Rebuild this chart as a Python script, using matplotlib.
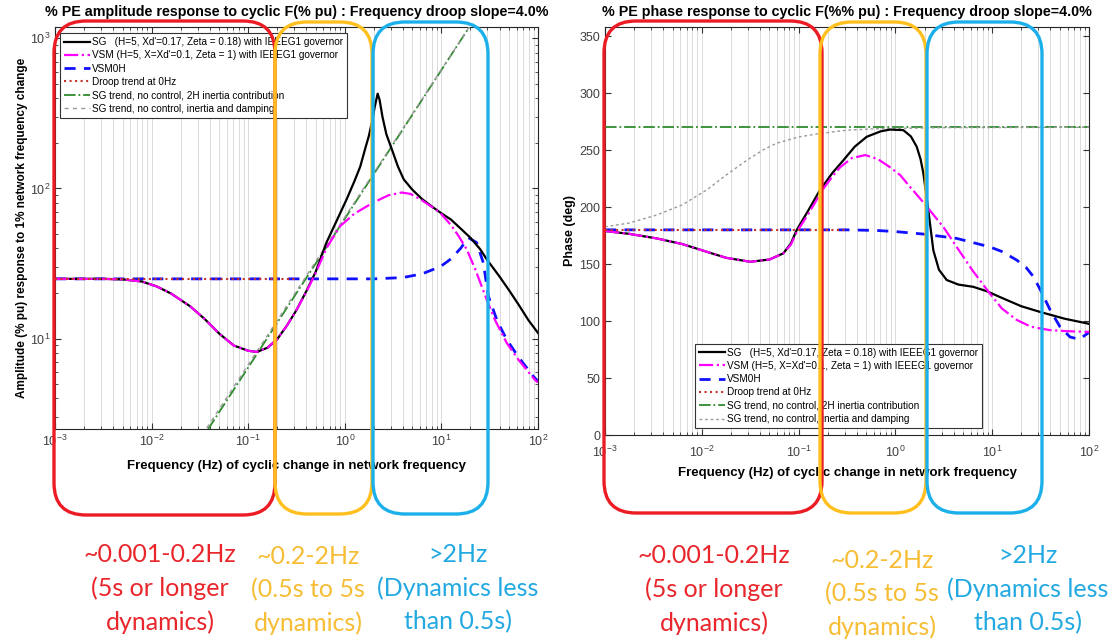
import numpy as np
import matplotlib
matplotlib.use("Agg")
import matplotlib.pyplot as plt
from matplotlib.patches import FancyBboxPatch

plt.rcParams['font.family'] = ['Liberation Sans', 'DejaVu Sans']

# ---------------- data ----------------
# Amplitude plot (left)
amp_sg_logf = [-3.0, -2.5, -2.3, -2.1, -1.95, -1.8, -1.6, -1.45, -1.3, -1.15, -1.0, -0.91,
               -0.8, -0.7, -0.6, -0.5, -0.39, -0.3, -0.19, -0.1, 0.02, 0.1, 0.16, 0.21,
               0.25, 0.28, 0.31, 0.34, 0.36, 0.39, 0.43, 0.49, 0.55, 0.61, 0.7, 0.8, 0.9,
               0.99, 1.1, 1.2, 1.3, 1.4, 1.47, 1.6, 1.7, 1.8, 1.9, 2.0]
amp_sg = [25, 25, 24.8, 24, 22.3, 20, 16.4, 13.5, 10.8, 9.0, 8.3, 8.15,
          8.7, 9.9, 12.2, 15.5, 21.2, 28, 43.6, 58, 85, 112, 140, 183,
          225, 275, 350, 428, 390, 300, 230, 180, 140, 115, 98, 85, 76,
          69, 62, 54, 47, 39.5, 33.7, 26, 21, 16.8, 13.3, 10.9]

amp_vsm_logf = [-3.0, -2.5, -2.3, -2.1, -1.95, -1.8, -1.6, -1.45, -1.3, -1.15, -1.0, -0.91,
                -0.8, -0.7, -0.6, -0.5, -0.39, -0.3, -0.19, -0.05, 0.1, 0.295, 0.45, 0.589,
                0.68, 0.778, 0.88, 0.986, 1.1, 1.18, 1.262, 1.35, 1.469, 1.55, 1.676, 1.8,
                1.969, 2.0]
amp_vsm = [25, 25, 24.8, 24, 22.3, 20, 16.4, 13.5, 10.8, 9.0, 8.3, 8.15,
           8.7, 9.9, 12.2, 15.5, 21.0, 27.5, 40, 56, 68, 80.6, 90, 94,
           92, 85, 77, 69, 57, 48, 39.3, 29, 18.2, 13.5, 9.36, 7.2,
           5.3, 5.1]

amp_vsm0h_logf = [-3.0, -1.0, 0.3, 0.6, 0.8, 0.916, 1.0, 1.1, 1.2, 1.279, 1.365, 1.434,
                  1.486, 1.58, 1.676, 1.8, 1.952, 2.0]
amp_vsm0h = [25, 25, 25, 25.5, 27, 28.9, 30.5, 34, 40, 47, 43.6, 32,
             19.2, 13.0, 9.85, 7.5, 5.6, 5.2]

droop_f = [0.001, 0.32]
amp_droop = [25, 25]

inertia_f = [0.03, 25]
amp_inertia = [1.95, 1525]
amp_inertia_damp = [2.05, 1525]

# Phase plot (right)
ph_sg_logf = [-3.0, -2.75, -2.466, -2.2, -1.95, -1.75, -1.5, -1.3, -1.158, -1.08, -1.02, -0.9,
              -0.779, -0.65, -0.538, -0.42, -0.296, -0.15, -0.056, 0.082, 0.16, 0.22, 0.26,
              0.289, 0.34, 0.392, 0.45, 0.53, 0.65, 0.805, 0.95, 1.081, 1.3, 1.494, 1.75,
              1.976, 2.0]
ph_sg = [179, 176.5, 172.5, 167.5, 160.8, 155.5, 152, 154, 159.4, 168, 179.8, 197,
         215, 230, 241, 253, 261.7, 266.5, 268, 267.5, 262, 253, 242,
         229.6, 197.4, 162, 145, 136, 132, 130, 126, 121, 113, 108, 102,
         98, 97.5]

ph_vsm_logf = [-3.0, -2.75, -2.466, -2.2, -1.95, -1.75, -1.5, -1.3, -1.158, -1.08, -1.02, -0.9,
               -0.745, -0.65, -0.57, -0.45, -0.31, -0.18, -0.056, 0.05, 0.15, 0.25, 0.357,
               0.5, 0.633, 0.8, 0.977, 1.1, 1.253, 1.4, 1.597, 1.8, 2.0]
ph_vsm = [179, 176.5, 172.5, 167.5, 160.8, 155.5, 152, 154, 159.4, 167, 178, 194,
          216, 227, 235, 243, 245.6, 242, 235, 228, 217.8, 208, 197,
          182, 165, 144, 124, 111, 101, 95, 92, 91, 90.5]

ph_vsm0h_logf = [-3.0, -0.5, -0.2, 0.0, 0.289, 0.633, 0.977, 1.1, 1.253, 1.35, 1.425, 1.5,
                 1.597, 1.7, 1.804, 1.9, 2.0]
ph_vsm0h = [180, 180, 179.5, 178.5, 176.3, 172.5, 165, 161, 153.5, 147, 139, 127,
            110, 95, 86, 84, 90]

ph_damp_logf = [-3.0, -2.75, -2.466, -2.2, -1.95, -1.75, -1.537, -1.35, -1.227, -1.0, -0.779,
                -0.5, -0.2, 0.5, 2.0]
ph_damp = [182.7, 186, 193, 202, 215, 228, 241, 251, 256, 261.5, 264.6,
           267.5, 268.7, 269.7, 270]

ph_inertia_f = [0.001, 100]
ph_inertia = [270, 270]
ph_droop = [180, 180]

labels = ["SG   (H=5, Xd'=0.17, Zeta = 0.18) with IEEEG1 governor",
          "VSM (H=5, X=Xd'=0.1, Zeta = 1) with IEEEG1 governor",
          "VSM0H",
          "Droop trend at 0Hz",
          "SG trend, no control, 2H inertia contribution",
          "SG trend, no control, inertia and damping"]

x_ticks = [1e-3, 1e-2, 1e-1, 1e0, 1e1, 1e2]
phase_ticks = [0, 50, 100, 150, 200, 250, 300, 350]

band_texts = ["~0.001-0.2Hz\n(5s or longer\ndynamics)",
              "~0.2-2Hz\n(0.5s to 5s\ndynamics)",
              ">2Hz\n(Dynamics less\nthan 0.5s)"]

# ---------------- styles ----------------
c_sg = 'black'
c_vsm = '#ff00ff'
c_vsm0h = '#1010ff'
c_droop = '#c8322d'
c_inertia = '#2e8b2e'
c_damp = '#9a9a9a'

W, H = 1113, 639
fig = plt.figure(figsize=(W / 100, H / 100), dpi=100)

def px_axes(x0, y0, x1, y1):
    return fig.add_axes([x0 / W, 1 - y1 / H, (x1 - x0) / W, (y1 - y0) / H])

axL = px_axes(55, 27, 538, 429)
axR = px_axes(605, 27, 1089, 435)

def tf(logf):
    return [10 ** v for v in logf]

def style_axes(ax, xpad, lpad):
    ax.set_xscale('log')
    ax.set_xlim(1e-3, 1e2)
    ax.set_xticks(x_ticks)
    ax.grid(True, which='both', axis='x', color='0.86', lw=0.7)
    ax.set_axisbelow(True)
    ax.tick_params(which='both', direction='in', top=True, right=True,
                   labelsize=9, colors='0.2', labelcolor='0.25')
    ax.tick_params(which='major', length=4)
    ax.tick_params(which='minor', length=2.5)
    ax.tick_params(axis='x', pad=xpad)
    for s in ax.spines.values():
        s.set_color('0.15')
        s.set_linewidth(0.8)
    ax.set_xlabel("Frequency (Hz) of cyclic change in network frequency",
                  fontsize=9.5, fontweight='bold', labelpad=lpad)

legend_kw = dict(fontsize=7.2, fancybox=False, edgecolor='0.2', framealpha=1,
                 handlelength=2.6, handletextpad=0.2, labelspacing=0.33,
                 borderpad=0.4, borderaxespad=0)

# ---- Left: amplitude ----
axL.plot(tf(amp_sg_logf), amp_sg, color=c_sg, lw=1.6, label=labels[0], zorder=4)
axL.plot(tf(amp_vsm_logf), amp_vsm, color=c_vsm, lw=1.6, ls='-.', label=labels[1], zorder=5)
axL.plot(tf(amp_vsm0h_logf), amp_vsm0h, color=c_vsm0h, lw=2, ls=(0, (4, 3)), label=labels[2], zorder=3)
axL.plot(droop_f, amp_droop, color=c_droop, lw=1.5, ls=':', label=labels[3], zorder=6)
axL.plot(inertia_f, amp_inertia, color=c_inertia, lw=1.3, ls='-.', label=labels[4], zorder=3)
axL.plot(inertia_f, amp_inertia_damp, color=c_damp, lw=1.0, ls=(0, (3, 3)), label=labels[5], zorder=3)
style_axes(axL, 3.5, 8)
axL.set_yscale('log')
axL.set_ylim(2.5, 1190)
axL.set_yticks([10, 100, 1000])
axL.set_ylabel("Amplitude (% pu) response to 1% network frequency change",
               fontsize=8.5, fontweight='bold', labelpad=1)
axL.set_title("% PE amplitude response to cyclic F(% pu) : Frequency droop slope=4.0%",
              fontsize=10.3, fontweight='bold', pad=8)
legL = axL.legend(loc='upper left', bbox_to_anchor=(0.0104, 0.985), **legend_kw)
legL.get_frame().set_linewidth(0.8)

# ---- Right: phase ----
axR.plot(tf(ph_sg_logf), ph_sg, color=c_sg, lw=1.6, label=labels[0], zorder=4)
axR.plot(tf(ph_vsm_logf), ph_vsm, color=c_vsm, lw=1.6, ls='-.', label=labels[1], zorder=5)
axR.plot(tf(ph_vsm0h_logf), ph_vsm0h, color=c_vsm0h, lw=2, ls=(0, (4, 3)), label=labels[2], zorder=3)
axR.plot(droop_f, ph_droop, color=c_droop, lw=1.5, ls=':', label=labels[3], zorder=6)
axR.plot(ph_inertia_f, ph_inertia, color=c_inertia, lw=1.3, ls='-.', label=labels[4], zorder=3)
axR.plot(tf(ph_damp_logf), ph_damp, color=c_damp, lw=1.0, ls=(0, (2, 2)), label=labels[5], zorder=3)
style_axes(axR, 7, 5)
axR.set_ylim(0, 358)
axR.set_yticks(phase_ticks)
axR.set_ylabel("Phase (deg)", fontsize=9, fontweight='bold', labelpad=2)
axR.set_title("% PE phase response to cyclic F(%% pu) : Frequency droop slope=4.0%",
              fontsize=10.3, fontweight='bold', pad=8)
legR = axR.legend(loc='lower left', bbox_to_anchor=(0.186, 0.017), **legend_kw)
legR.get_frame().set_linewidth(0.8)

# ---------------- annotation overlays ----------------
c_red = '#ec1c24'
c_orange = '#ffbf1f'
c_blue = '#1cb0ea'
t_red = '#e8262c'
t_orange = '#f6bd35'
t_blue = '#23a9e1'

def rbox(x0, y0, x1, y1, color):
    p = FancyBboxPatch((x0 / 100, (H - y1) / 100), (x1 - x0) / 100, (y1 - y0) / 100,
                       boxstyle="round,pad=0,rounding_size=0.32",
                       transform=fig.dpi_scale_trans, fill=False,
                       edgecolor=color, lw=2.4, zorder=20)
    fig.add_artist(p)

# left plot boxes
rbox(54, 21, 275, 515, c_red)
rbox(275, 22, 372, 514, c_orange)
rbox(373, 22, 488, 514, c_blue)
# right plot boxes
rbox(604, 21, 822, 513, c_red)
rbox(820, 22, 926, 513, c_orange)
rbox(927, 22, 1042, 513, c_blue)

def band_text(xc, ytop, text, color):
    fig.text(xc / W, 1 - ytop / H, text, ha='center', va='top', color=color,
             fontsize=18, family=['Lato', 'DejaVu Sans'], linespacing=1.52,
             zorder=21)

band_text(160, 543, band_texts[0], t_red)
band_text(308, 545, band_texts[1], t_orange)
band_text(458, 543, band_texts[2], t_blue)
band_text(714, 544, band_texts[0], t_red)
band_text(882, 549, band_texts[1], t_orange)
band_text(1028, 544, band_texts[2], t_blue)

fig.savefig("out.png", dpi=100)
